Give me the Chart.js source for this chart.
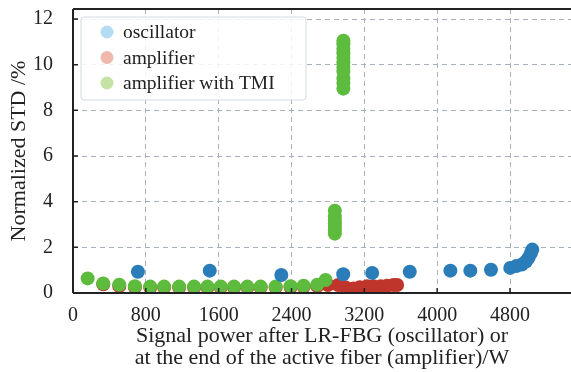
<!DOCTYPE html>
<html lang="en">
<head>
<meta charset="UTF-8">
<title>Normalized STD</title>
<script src="https://cdn.jsdelivr.net/npm/chart.js"></script>
<style>
  body { margin: 0; background: #fff; }
  #wrap { width: 571px; height: 372px; }
</style>
</head>
<body>
<div id="wrap"><canvas id="stdChart" width="571" height="372"></canvas></div>
<script>
// data (W, %)
const oscX = [713, 1502, 2288, 2968, 3286, 3699, 4145, 4364, 4591, 4803, 4870, 4930, 4975, 5005, 5030, 5045];
const oscY = [0.93, 0.98, 0.79, 0.82, 0.88, 0.93, 0.98, 0.98, 1.02, 1.1, 1.18, 1.25, 1.38, 1.55, 1.75, 1.9];

const ampX = [332, 508, 680, 848, 1001, 1166, 1330, 1477, 1623, 1769, 1915, 2061, 2226, 2390, 2533, 2683, 2800,
              2913, 2990, 3082, 3150, 3230, 3300, 3380, 3450, 3520, 3560];
const ampY = [0.38, 0.3, 0.25, 0.24, 0.24, 0.24, 0.24, 0.24, 0.24, 0.24, 0.24, 0.24, 0.24, 0.25, 0.27, 0.3, 0.35,
              0.35, 0.25, 0.2, 0.25, 0.3, 0.3, 0.3, 0.32, 0.35, 0.35];

const tmiX = [161, 332, 508, 680, 848, 1001, 1166, 1330, 1477, 1623, 1769, 1915, 2061, 2226, 2390, 2533, 2683, 2774,
              2876, 2876, 2876, 2876, 2876, 2876, 2876,
              2970, 2970, 2970, 2970, 2970, 2970, 2970, 2970, 2970, 2970, 2970];
const tmiY = [0.64, 0.42, 0.36, 0.3, 0.28, 0.28, 0.28, 0.28, 0.28, 0.28, 0.28, 0.28, 0.28, 0.28, 0.3, 0.32, 0.36, 0.57,
              2.6, 2.75, 2.9, 3.05, 3.2, 3.35, 3.6,
              8.95, 9.2, 9.4, 9.7, 9.9, 10.1, 10.3, 10.5, 10.7, 10.9, 11.05];

const xTicks = [0, 800, 1600, 2400, 3200, 4000, 4800];
const yTicks = [0, 2, 4, 6, 8, 10, 12];

const seriesNames = ['oscillator', 'amplifier', 'amplifier with TMI'];
const xTitle = ['Signal power after LR-FBG (oscillator) or', 'at the end of the active fiber (amplifier)/W'];
const yTitle = 'Normalized STD /%';

const SERIF = '"Liberation Serif", "DejaVu Serif", serif';
const pts = (xs, ys) => xs.map((x, i) => ({ x: x, y: ys[i] }));

// legend box drawn inside the plot, plus the solid frame and inward ticks
const framePlugin = {
  id: 'frame',
  afterDraw(chart) {
    const { ctx, chartArea: a, scales } = chart;
    ctx.save();
    ctx.strokeStyle = '#222';
    ctx.lineWidth = 2;
    ctx.beginPath();
    ctx.moveTo(a.left, a.top); ctx.lineTo(a.right, a.top);
    ctx.moveTo(a.left, a.top); ctx.lineTo(a.left, a.bottom);
    ctx.moveTo(a.left, a.bottom); ctx.lineTo(a.right, a.bottom);
    ctx.stroke();
    ctx.lineWidth = 1.5;
    ctx.beginPath();
    scales.x.ticks.forEach(t => {
      const px = scales.x.getPixelForValue(t.value);
      ctx.moveTo(px, a.bottom); ctx.lineTo(px, a.bottom - 5);
    });
    scales.y.ticks.forEach(t => {
      const py = scales.y.getPixelForValue(t.value);
      ctx.moveTo(a.left, py); ctx.lineTo(a.left + 5, py);
    });
    ctx.stroke();

    // legend
    const lx = 81, ly = 17, lw = 225, lh = 83;
    ctx.fillStyle = 'rgba(255,255,255,0.85)';
    ctx.strokeStyle = '#d3dae2';
    ctx.lineWidth = 1;
    ctx.beginPath();
    ctx.roundRect(lx, ly, lw, lh, 3);
    ctx.fill(); ctx.stroke();
    const swatch = ['#b5dcf2', '#f0b9ae', '#c4e4a6'];
    ctx.font = '19.5px ' + SERIF;
    ctx.textBaseline = 'middle';
    seriesNames.forEach((name, i) => {
      const cy = ly + 15 + i * 25.5;
      ctx.fillStyle = swatch[i];
      ctx.beginPath();
      ctx.arc(lx + 26, cy, 6.5, 0, Math.PI * 2);
      ctx.fill();
      ctx.fillStyle = '#222';
      ctx.fillText(name, lx + 42, cy + 1);
    });
    ctx.restore();
  }
};

new Chart(document.getElementById('stdChart'), {
  type: 'scatter',
  data: {
    datasets: [
      { label: seriesNames[0], data: pts(oscX, oscY), backgroundColor: '#2a7db8', order: 0 },
      { label: seriesNames[1], data: pts(ampX, ampY), backgroundColor: '#c0352b', order: 2 },
      { label: seriesNames[2], data: pts(tmiX, tmiY), backgroundColor: '#5dbb3d', order: 1 }
    ]
  },
  options: {
    responsive: false,
    animation: false,
    layout: { autoPadding: false, padding: { top: 9, right: 0, left: 0, bottom: 0 } },
    elements: { point: { radius: 7, borderWidth: 0, hoverRadius: 7 } },
    plugins: { legend: { display: false }, tooltip: { enabled: false } },
    scales: {
      x: {
        type: 'linear', min: 0, max: 5470,
        afterFit(s) { s.height = 79; s.paddingLeft = 0; s.paddingRight = 0; },
        afterBuildTicks(s) { s.ticks = xTicks.map(v => ({ value: v })); },
        ticks: { padding: 11, color: '#222', font: { family: SERIF, size: 20 }, callback: v => String(v) },
        grid: { color: '#a6afba', drawTicks: false },
        border: { display: false, dash: [5, 4] },
        title: { display: true, text: xTitle, color: '#222', font: { family: SERIF, size: 22, lineHeight: 1.0 }, padding: { top: 2, bottom: 3 } }
      },
      y: {
        min: 0, max: 12.44,
        afterFit(s) { s.width = 73; s.paddingTop = 0; s.paddingBottom = 0; },
        afterBuildTicks(s) { s.ticks = yTicks.map(v => ({ value: v })); },
        ticks: { padding: 20, color: '#222', font: { family: SERIF, size: 20 }, callback: v => String(v) },
        grid: { color: '#a6afba', drawTicks: false },
        border: { display: false, dash: [5, 4] },
        title: { display: true, text: yTitle, color: '#222', font: { family: SERIF, size: 22 }, padding: { top: 6, bottom: 4 } }
      }
    }
  },
  plugins: [framePlugin]
});
</script>
</body>
</html>
